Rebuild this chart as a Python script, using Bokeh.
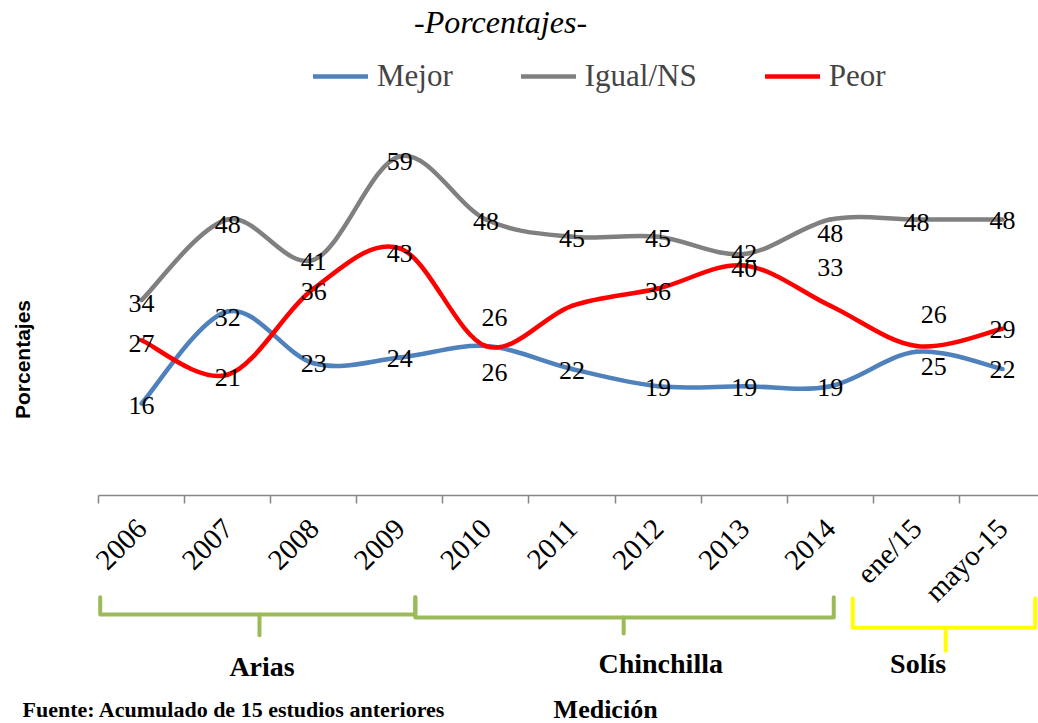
import math
from bokeh.plotting import figure
from bokeh.models import ColumnDataSource, FixedTicker, Legend, LegendItem, Range1d
from bokeh.core.properties import value
from bokeh.embed import file_html
from bokeh.resources import INLINE

# ---------------- data ----------------
categories = ["2006", "2007", "2008", "2009", "2010", "2011", "2012",
              "2013", "2014", "ene/15", "mayo-15"]
mejor = [16, 32, 23, 24, 26, 22, 19, 19, 19, 25, 22]
igual = [34, 48, 41, 59, 48, 45, 45, 42, 48, 48, 48]
peor = [27, 21, 36, 43, 26, 33, 36, 40, 33, 26, 29]
series_names = ["Mejor", "Igual/NS", "Peor"]
groups = ["Arias", "Chinchilla", "Solís"]

# ---------------- styling / label placement ----------------
colors = ["#4F81BD", "#808080", "#FF0000"]
bracket_colors = ["#9BBB59", "#9BBB59", "#FFFF00"]
mejor_dy = [-0.3, -1.0, 0, -0.2, -4.6, -0.3, -0.2, -0.2, -0.2, -2.6, 0]
mejor_dx = [0, 0, 0, 0, 0.1, 0, 0, 0, 0, 0.2, 0]
igual_dy = [-0.6, -0.9, -0.3, -0.9, -0.3, -0.3, -0.3, 0.1, -2.4, -0.5, -0.2]
igual_dx = [0] * 11
peor_dy = [-0.6, -0.4, -0.6, -0.9, 4.9, 0, -0.5, -0.5, 6.7, 5.5, -0.1]
peor_dx = [0, 0, 0, 0, 0.1, 0, 0, 0, 0, 0.2, 0]
peor_show = [True, True, True, True, True, False, True, True, True, True, True]

SERIF = "Liberation Serif"

p = figure(width=1038, height=723, output_backend="svg", toolbar_location=None,
           x_range=Range1d(-1.638, 10.418), y_range=Range1d(-39.65, 86.09),
           y_axis_location=None, min_border=0)
p.outline_line_color = None
p.grid.visible = False


def smooth(xs, ys):
    n = len(xs)
    d = dict(x0=[], y0=[], x1=[], y1=[], cx0=[], cy0=[], cx1=[], cy1=[])
    for i in range(n - 1):
        a = (xs[i - 1], ys[i - 1]) if i > 0 else (xs[i], ys[i])
        b = (xs[i], ys[i])
        c = (xs[i + 1], ys[i + 1])
        e = (xs[i + 2], ys[i + 2]) if i + 2 < n else c
        d["x0"].append(b[0]); d["y0"].append(b[1])
        d["x1"].append(c[0]); d["y1"].append(c[1])
        d["cx0"].append(b[0] + (c[0] - a[0]) / 6.0)
        d["cy0"].append(b[1] + (c[1] - a[1]) / 6.0)
        d["cx1"].append(c[0] - (e[0] - b[0]) / 6.0)
        d["cy1"].append(c[1] - (e[1] - b[1]) / 6.0)
    return ColumnDataSource(d)


xs = list(range(len(categories)))
all_series = [mejor, igual, peor]
legend_items = []
for name, vals, col in zip(series_names, all_series, colors):
    src = smooth(xs, vals)
    r = p.bezier(x0="x0", y0="y0", x1="x1", y1="y1", cx0="cx0", cy0="cy0",
                 cx1="cx1", cy1="cy1", source=src, line_color=col, line_width=4.5,
                 line_cap="round")
    legend_items.append(LegendItem(label=name, renderers=[r]))

# data labels
label_sets = [
    (mejor, mejor_dx, mejor_dy, [True] * 11),
    (igual, igual_dx, igual_dy, [True] * 11),
    (peor, peor_dx, peor_dy, peor_show),
]
for vals, dxs, dys, show in label_sets:
    lx, ly, lt = [], [], []
    for i, v in enumerate(vals):
        if show[i]:
            lx.append(i + dxs[i]); ly.append(v + dys[i]); lt.append(str(v))
    p.text(x=lx, y=ly, text=lt, text_font=value(SERIF), text_font_size="26px",
           text_color="black", text_align="center", text_baseline="middle")

# x axis (category axis with ticks between categories)
ax = p.xaxis[0]
ax.fixed_location = 0
ax.bounds = (-0.5, 10.5)
ax.ticker = FixedTicker(ticks=xs, minor_ticks=[i - 0.5 for i in range(12)])
ax.major_label_overrides = {i: c for i, c in enumerate(categories)}
ax.major_label_orientation = math.pi / 4
ax.major_label_text_font = SERIF
ax.major_label_text_font_size = "29px"
ax.major_label_text_color = "black"
ax.major_label_standoff = 20
ax.major_tick_line_color = None
ax.major_tick_out = 0
ax.major_tick_in = 0
ax.minor_tick_line_color = "#868686"
ax.minor_tick_line_width = 1.5
ax.minor_tick_out = 8
ax.minor_tick_in = 0
ax.axis_line_color = "#868686"
ax.axis_line_width = 1.5

# legend
legend = Legend(items=legend_items, orientation="horizontal", location=(313, 629),
                border_line_color=None, background_fill_alpha=0,
                label_text_font=SERIF, label_text_font_size="31px",
                glyph_width=55, glyph_height=36, label_height=36,
                label_standoff=9, spacing=68, padding=0, margin=0)
p.add_layout(legend)

# title and axis titles
p.text(x=[4.17], y=[82.3], text=["-Porcentajes-"], text_font=value(SERIF),
       text_font_style="italic", text_font_size="32px", text_align="center",
       text_baseline="middle", text_color="black")
p.text(x=[-1.383], y=[23.65], text=["Porcentajes"], angle=math.pi / 2,
       text_font=value("Liberation Sans"), text_font_style="bold",
       text_font_size="21px", text_align="center", text_baseline="middle",
       text_color="black")

# group brackets (decorative shapes)
bracket_x = [(-0.48, 3.18), (3.18, 8.04), (8.26, 10.38)]
bracket_top = [-17.7, -17.7, -17.9]
bracket_bar = [-20.7, -21.2, -23.0]
bracket_notch_x = [1.37, 5.6, 9.34]
bracket_notch_y = [-24.3, -24.0, -27.0]
group_label_x = [1.40, 6.03, 9.02]
group_label_y = [-29.7, -29.2, -29.2]
for col, (xl, xr), yt, yb, nx, ny in zip(bracket_colors, bracket_x, bracket_top,
                                          bracket_bar, bracket_notch_x,
                                          bracket_notch_y):
    p.multi_line(xs=[[xl, xl, xr, xr], [nx, nx]], ys=[[yt, yb, yb, yt], [yb, ny]],
                 line_color=col, line_width=4, line_join="round", line_cap="round")
p.text(x=group_label_x, y=group_label_y, text=groups, text_font=value(SERIF),
       text_font_style="bold", text_font_size="28px", text_align="center",
       text_baseline="middle", text_color="black")

p.text(x=[5.39], y=[-37.2], text=["Medición"], text_font=value(SERIF),
       text_font_style="bold", text_font_size="26px", text_align="center",
       text_baseline="middle", text_color="black")
p.text(x=[-1.383], y=[-39.4], text=["Fuente: Acumulado de 15 estudios anteriores"],
       text_font=value(SERIF), text_font_style="bold", text_font_size="22px",
       text_align="left", text_baseline="bottom", text_color="black")

open("out.html", "w").write(file_html(p, INLINE))
